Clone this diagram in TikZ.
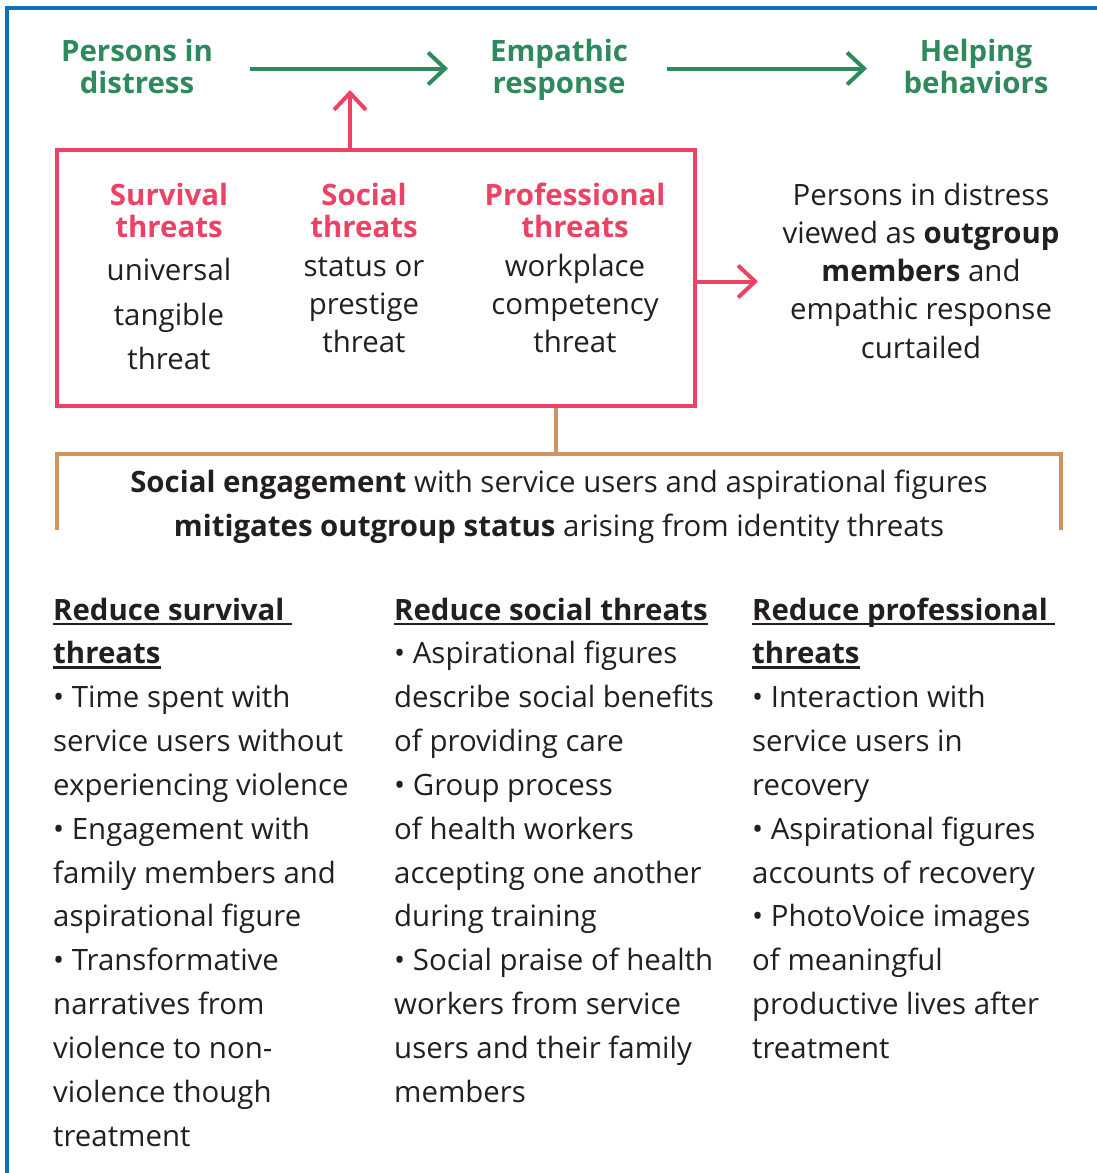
\documentclass[tikz,border=0pt]{standalone}
\usepackage{fontspec}
\setmainfont{Open Sans}
\usetikzlibrary{arrows.meta}

\definecolor{frameblue}{RGB}{11,114,186}
\definecolor{flowgreen}{RGB}{47,138,91}
\definecolor{threatred}{RGB}{236,66,100}
\definecolor{bracetan}{RGB}{207,148,99}
\definecolor{ink}{RGB}{35,31,32}

% underline that sits just below the baseline, through descenders
\newcommand\hdul[1]{\setbox0\hbox{#1}\rlap{\rule[-5pt]{\wd0}{2.4pt}}\box0}
% text block of centred lines, anchored at the first baseline
\newcommand\cblock[2]{{\fontsize{29.4}{#1}\selectfont\begin{tabular}[t]{@{}c@{}}#2\end{tabular}}}
% text block of left-aligned lines, anchored at the first baseline
\newcommand\lblock[2]{{\fontsize{29.4}{#1}\selectfont\begin{tabular}[t]{@{}l@{}}#2\end{tabular}}}

\begin{document}
\begin{tikzpicture}[x=1pt,y=-1pt,
  txt/.style={inner sep=0pt, anchor=base, text=ink},
  greentitle/.style={txt, text=flowgreen, font=\bfseries},
  redtitle/.style={txt, text=threatred, font=\bfseries},
  greenarrow/.style={draw=flowgreen, line width=4pt,
    -{Straight Barb[length=17pt, width=32pt, line width=4pt]}},
  redarrow/.style={draw=threatred, line width=4pt,
    -{Straight Barb[length=17pt, width=32pt, line width=4pt]}},
  tanline/.style={draw=bracetan, line width=4pt},
]
\useasboundingbox (0,0) rectangle (1097,1173);

% outer frame (left and top edges)
\draw[frameblue, line width=4pt] (7,1173) -- (7,8) -- (1097,8);

% flow: persons in distress -> empathic response -> helping behaviors
\node[greentitle] (pd) at (137,61) {\cblock{32}{Persons in\\distress}};
\node[greentitle] (er) at (559,61) {\cblock{32}{Empathic\\response}};
\node[greentitle] (hb) at (976,61) {\cblock{32}{Helping\\behaviors}};
\coordinate (a1s) at (250,68.5);
\coordinate (a1e) at (448,68.5);
\coordinate (a2s) at (667,68.5);
\coordinate (a2e) at (867,68.5);
\draw[greenarrow] (a1s) -- (a1e);
\draw[greenarrow] (a2s) -- (a2e);

% identity threats box
\node[draw=threatred, line width=4pt, inner sep=0pt,
      minimum width=638pt, minimum height=255.5pt] (tb) at (376,277.75) {};
\coordinate (uptip) at (350,90);
\draw[redarrow] (tb.north -| uptip) -- (uptip);
\coordinate (righttip) at (758,281.5);
\draw[redarrow] (tb.east |- righttip) -- (righttip);

\node[redtitle] (st) at (169,205) {\cblock{32}{Survival\\threats}};
\node[txt] (sb) at (169,280.5) {\cblock{44.5}{universal\\tangible\\threat}};
\node[redtitle] (so) at (364,205) {\cblock{32}{Social\\threats}};
\node[txt] (sob) at (364,276) {\cblock{38}{status or\\prestige\\threat}};
\node[redtitle] (pt) at (575,205) {\cblock{32}{Professional\\threats}};
\node[txt] (ptb) at (575,276) {\cblock{38}{workplace\\competency\\threat}};

% consequence
\node[txt] (out) at (921,205) {\cblock{38.3}{Persons in distress\\viewed as \textbf{outgroup}\\\textbf{members} and\\empathic response\\curtailed}};

% bracket for social engagement
\coordinate (bt) at (556,454);
\coordinate (bl) at (57,454);
\coordinate (br) at (1061,454);
\coordinate (bll) at (57,530);
\coordinate (brl) at (1061,530);
\draw[tanline] (tb.south -| bt) -- (bt);
\draw[tanline] (bll) -- (bl) -- (br) -- (brl);
\node[txt] (se) at (559,492.5) {\cblock{44}{\textbf{Social engagement} with service users and aspirational figures\\\textbf{mitigates outgroup status} arising from identity threats}};

% three columns of mitigations
\node[txt, anchor=base west] (c1) at (53,620) {\lblock{43.85}{%
\textbf{\hdul{Reduce survival\ }}\\
\textbf{\hdul{threats}}\\
• Time spent with\\
service users without\\
experiencing violence\\
• Engagement with\\
family members and\\
aspirational figure\\
• Transformative\\
narratives from\\
violence to non-\\
violence though\\
treatment}};

\node[txt, anchor=base west] (c2) at (394,620) {\lblock{43.85}{%
\textbf{\hdul{Reduce social threats}}\\
• Aspirational figures\\
describe social benefits\\
of providing care\\
• Group process\\
of health workers\\
accepting one another\\
during training\\
• Social praise of health\\
workers from service\\
users and their family\\
members}};

\node[txt, anchor=base west] (c3) at (752,620) {\lblock{43.85}{%
\textbf{\hdul{Reduce professional\ }}\\
\textbf{\hdul{threats}}\\
• Interaction with\\
service users in\\
recovery\\
• Aspirational figures\\
accounts of recovery\\
• PhotoVoice images\\
of meaningful\\
productive lives after\\
treatment}};
\end{tikzpicture}
\end{document}
